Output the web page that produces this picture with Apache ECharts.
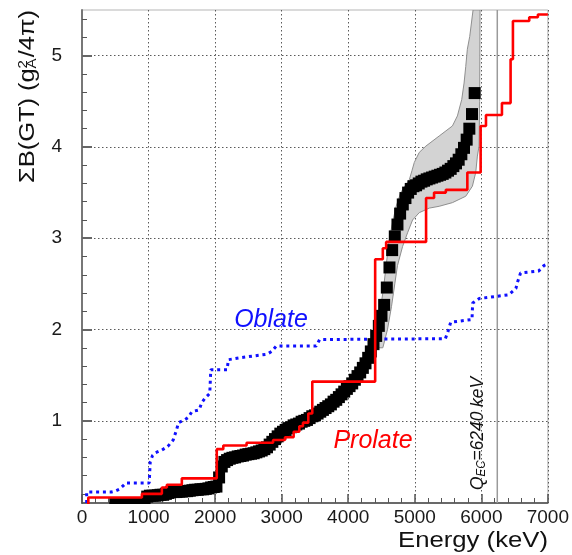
<!DOCTYPE html>
<html>
<head>
<meta charset="utf-8">
<script src="https://cdn.jsdelivr.net/npm/echarts@6/dist/echarts.min.js"></script>
<style>
  html, body { margin: 0; padding: 0; background: #ffffff; }
  #chart { width: 572px; height: 555px; }
</style>
</head>
<body>
<div id="chart"></div>
<script>
// ---- axis ticks ----
const xTickValues = [0, 1000, 2000, 3000, 4000, 5000, 6000, 7000];
const yTickValues = [1, 2, 3, 4, 5];
const yMinorTickValues = [0.2, 0.4, 0.6, 0.8, 1.2, 1.4, 1.6, 1.8, 2.2, 2.4, 2.6, 2.8,
  3.2, 3.4, 3.6, 3.8, 4.2, 4.4, 4.6, 4.8, 5.2, 5.4];

// ---- measured cumulative B(GT): bin energies (keV) and summed strength ----
const expEnergy = [
  500, 540, 580, 620, 660, 700, 740, 780, 820, 860, 900, 940, 980, 1020, 1060, 1100,
  1140, 1180, 1220, 1260, 1300, 1340, 1380, 1420, 1460, 1500, 1540, 1580, 1620, 1660,
  1700, 1740, 1780, 1820, 1860, 1900, 1940, 1980, 2020, 2060, 2100, 2140, 2180, 2220,
  2260, 2300, 2340, 2380, 2420, 2460, 2500, 2540, 2580, 2620, 2660, 2700, 2740, 2780,
  2820, 2860, 2900, 2940, 2980, 3020, 3060, 3100, 3140, 3180, 3220, 3260, 3300, 3340,
  3380, 3420, 3460, 3500, 3540, 3580, 3620, 3660, 3700, 3740, 3780, 3820, 3860, 3900,
  3940, 3980, 4020, 4060, 4100, 4140, 4180, 4220, 4260, 4300, 4340, 4380, 4420, 4460,
  4500, 4540, 4580, 4620, 4660, 4700, 4740, 4780, 4820, 4860, 4900, 4940, 4980, 5020,
  5060, 5100, 5140, 5180, 5220, 5260, 5300, 5340, 5380, 5420, 5460, 5500, 5540, 5580,
  5620, 5660, 5700, 5740, 5780, 5820, 5860, 5900
];
const expSum = [
  0.09, 0.09, 0.09, 0.09, 0.09, 0.095, 0.095, 0.095, 0.10, 0.10, 0.10, 0.10, 0.17, 0.18, 0.18, 0.18,
  0.185, 0.19, 0.19, 0.20, 0.21, 0.22, 0.22, 0.22, 0.225, 0.225, 0.23, 0.23, 0.235, 0.24,
  0.245, 0.245, 0.25, 0.25, 0.255, 0.26, 0.27, 0.275, 0.28, 0.38, 0.50, 0.55, 0.57, 0.585,
  0.595, 0.60, 0.61, 0.615, 0.62, 0.63, 0.635, 0.64, 0.645, 0.655, 0.665, 0.675, 0.69, 0.71,
  0.74, 0.77, 0.80, 0.83, 0.86, 0.88, 0.90, 0.92, 0.93, 0.95, 0.96, 0.97, 0.99, 1.00,
  1.01, 1.03, 1.05, 1.06, 1.08, 1.10, 1.12, 1.14, 1.16, 1.18, 1.21, 1.23, 1.26, 1.29,
  1.32, 1.35, 1.38, 1.41, 1.45, 1.49, 1.53, 1.58, 1.63, 1.69, 1.76, 1.84, 1.93, 2.04,
  2.15, 2.27, 2.46, 2.68, 2.87, 3.02, 3.15, 3.27, 3.37, 3.44, 3.50, 3.54, 3.57, 3.58,
  3.60, 3.62, 3.63, 3.645, 3.655, 3.665, 3.675, 3.685, 3.695, 3.705, 3.72, 3.74, 3.76, 3.79,
  3.82, 3.86, 3.92, 3.99, 4.08, 4.20, 4.36, 4.59
];

// ---- uncertainty band outline: upper/left edge going up, lower/right edge coming down ----
const bandUpper = [
  [4400, 1.80], [4430, 1.90], [4480, 2.20], [4530, 2.45], [4570, 2.70], [4610, 2.95],
  [4660, 3.15], [4720, 3.35], [4790, 3.50], [4860, 3.58], [4918, 3.64], [4958, 3.74],
  [4993, 3.83], [5067, 3.94], [5168, 4.01], [5367, 4.12], [5566, 4.23], [5641, 4.34],
  [5706, 4.52], [5741, 4.70], [5766, 4.88], [5790, 5.07], [5826, 5.21], [5876, 5.50]
];
const bandLower = [
  [5981, 5.50], [5975, 4.50], [5966, 4.01], [5941, 3.90], [5916, 3.72], [5866, 3.57],
  [5766, 3.46], [5566, 3.39], [5367, 3.35], [5217, 3.33], [5067, 3.28], [4967, 3.20],
  [4892, 3.06], [4817, 2.91], [4740, 2.70], [4700, 2.50], [4650, 2.25], [4590, 2.00],
  [4520, 1.80]
];

// ---- shell-model calculations (cumulative, step functions) ----
const prolate = [
  [95, 0.0], [95, 0.16], [900, 0.20], [1200, 0.27], [1275, 0.30], [1500, 0.37],
  [2025, 0.69], [2123, 0.73], [2473, 0.76], [2871, 0.79], [3050, 0.82], [3180, 0.88],
  [3265, 0.94], [3320, 0.98], [3400, 1.08], [3460, 1.43], [4405, 2.77], [4520, 2.89],
  [4570, 2.96], [5170, 3.44], [5290, 3.50], [5467, 3.53], [5790, 3.72], [5990, 4.23],
  [6070, 4.35], [6310, 4.48], [6440, 4.96], [6475, 5.38], [6720, 5.42], [6850, 5.45],
  [7000, 5.45]
];
const oblate = [
  [70, 0.10], [70, 0.22], [440, 0.22], [500, 0.23], [560, 0.25], [620, 0.29], [660, 0.32],
  [1010, 0.32], [1025, 0.55], [1060, 0.62], [1100, 0.65], [1200, 0.68], [1290, 0.72],
  [1370, 0.79], [1420, 0.90], [1450, 0.98], [1540, 1.01], [1600, 1.04], [1650, 1.10],
  [1760, 1.12], [1800, 1.20], [1850, 1.25], [1920, 1.30], [1935, 1.56], [2180, 1.56],
  [2200, 1.67], [2370, 1.69], [2780, 1.73], [2850, 1.76], [2920, 1.82], [3520, 1.82],
  [3570, 1.89], [5460, 1.90], [5500, 1.98], [5540, 2.08], [5860, 2.11], [5870, 2.29],
  [5970, 2.34], [6410, 2.38], [6520, 2.45], [6540, 2.51], [6590, 2.62], [6860, 2.64],
  [6940, 2.70], [7000, 2.72]
];

const QEC = 6240;           // keV
const yMin = 0.1, yMax = 5.5;

// ---- text helpers ----
const FAMILY = '"Liberation Sans", Arial, Helvetica, sans-serif';
const measureCtx = document.createElement('canvas').getContext('2d');
function textWidth(str, font) { measureCtx.font = font; return measureCtx.measureText(str).width; }

function textEl(str, x, y, font, fill) {
  return {
    type: 'text', x: x, y: y, silent: true,
    style: { text: str, font: font, fill: fill, textAlign: 'left', textVerticalAlign: 'middle',
             align: 'left', verticalAlign: 'middle' }
  };
}

// vertical axis title: ΣB(GT) (g_A^2/4π), reading bottom to top
const tBig = '22px ' + FAMILY, tSmall = '13px ' + FAMILY;
const yt1 = 'ΣB(GT) (g', yt3 = '/4π)';
const w1 = textWidth(yt1, tBig);
const wS = Math.max(textWidth('2', tSmall), textWidth('A', tSmall)) + 1;
const w3 = textWidth(yt3, tBig);
const yTitleLen = 173;
const yTitle = {
  type: 'group', x: 28, y: 183, rotation: Math.PI / 2,
  scaleX: yTitleLen / (w1 + wS + w3),
  children: [
    textEl(yt1, 0, 0, tBig, '#111'),
    textEl('2', w1, -5, tSmall, '#111'),
    textEl('A', w1, 4, tSmall, '#111'),
    textEl(yt3, w1 + wS, 0, tBig, '#111')
  ]
};

// horizontal axis title
const xtFont = '22px ' + FAMILY;
const xtStr = 'Energy (keV)';
const xTitle = {
  type: 'text', x: 548, y: 541, silent: true,
  scaleX: 150 / textWidth(xtStr, xtFont),
  style: { text: xtStr, font: xtFont, fill: '#111', textAlign: 'right', textVerticalAlign: 'middle',
           align: 'right', verticalAlign: 'middle' }
};

// Q-value annotation next to the vertical marker
const qBig = 'italic 18px ' + FAMILY, qSmall = 'italic 12px ' + FAMILY;
const wQ = textWidth('Q', qBig), wEC = textWidth('EC', qSmall), wRest = textWidth('=6240 keV', qBig);
const qLabel = {
  type: 'group', x: 478, y: 490, rotation: Math.PI / 2,
  scaleX: 113 / (wQ + wEC + wRest),
  children: [
    textEl('Q', 0, 0, qBig, '#111'),
    textEl('EC', wQ, 4, qSmall, '#111'),
    textEl('=6240 keV', wQ + wEC, 0, qBig, '#111')
  ]
};

const curveLabelFont = 'italic 25px ' + FAMILY;
function curveLabel(str, cx, cy, color) {
  return {
    type: 'text', x: cx, y: cy, silent: true,
    style: { text: str, font: curveLabelFont, fill: color, textAlign: 'center', textVerticalAlign: 'middle',
             align: 'center', verticalAlign: 'middle' }
  };
}

const gridLine = { color: '#5a5a5a', width: 1, type: [1.5, 2.5] };
const plainNumber = function (v) { return String(v); };

const chart = echarts.init(document.getElementById('chart'), null, { renderer: 'canvas' });
chart.setOption({
  animation: false,
  backgroundColor: '#ffffff',
  grid: { left: 82, right: 23, top: 10, bottom: 52, show: true, borderColor: '#b5b5b5', borderWidth: 1 },
  xAxis: {
    type: 'value', min: 0, max: 7000, interval: 1000,
    axisLine: { show: true, onZero: false, lineStyle: { color: '#444', width: 1.5 } },
    axisTick: { show: true, inside: true, length: 9, lineStyle: { color: '#555', width: 1.5 } },
    minorTick: { show: true, splitNumber: 5, length: 5, lineStyle: { color: '#555', width: 1 } },
    axisLabel: {
      margin: 5, fontSize: 19, fontFamily: FAMILY, color: '#1a1a1a',
      customValues: xTickValues, showMinLabel: true, showMaxLabel: true, formatter: plainNumber
    },
    splitLine: { show: true, lineStyle: gridLine }
  },
  yAxis: [
    {
      type: 'value', min: yMin, max: yMax,
      axisLine: { show: true, onZero: false, lineStyle: { color: '#777', width: 2 } },
      axisTick: { show: true, inside: true, length: 10, customValues: yTickValues,
                  lineStyle: { color: '#666', width: 2 } },
      axisLabel: { margin: 20, fontSize: 19, fontFamily: FAMILY, color: '#1a1a1a',
                   customValues: yTickValues, formatter: plainNumber },
      splitLine: { show: true, lineStyle: gridLine }
    },
    {
      type: 'value', min: yMin, max: yMax, position: 'left',
      axisLine: { show: false },
      axisTick: { show: true, inside: true, length: 5, customValues: yMinorTickValues,
                  lineStyle: { color: '#555', width: 1 } },
      axisLabel: { show: false },
      splitLine: { show: false }
    }
  ],
  series: [
    {
      // uncertainty band of the measured distribution
      type: 'custom', z: 1, clip: true,
      data: [[bandUpper[0][0], bandUpper[0][1]]],
      renderItem: function (params, api) {
        const pts = bandUpper.concat(bandLower).map(function (p) { return api.coord(p); });
        return {
          type: 'polygon', shape: { points: pts },
          style: { fill: '#d3d3d3', stroke: '#8f8f8f', lineWidth: 1 }
        };
      }
    },
    {
      // Q_EC marker
      type: 'line', z: 2, symbol: 'none', silent: true,
      data: [[QEC, yMin], [QEC, yMax]],
      lineStyle: { color: '#9a9a9a', width: 1.5 }
    },
    {
      name: 'Oblate', type: 'line', z: 3, symbol: 'none', silent: true,
      data: oblate,
      lineStyle: { color: '#1010ff', width: 3, type: [3, 3.8] }
    },
    {
      name: 'Experiment', type: 'scatter', z: 4, clip: false, silent: true,
      symbol: 'rect', symbolSize: 12,
      itemStyle: { color: '#000000', opacity: 1 },
      data: expEnergy.map(function (e, i) { return [e, expSum[i]]; })
    },
    {
      name: 'Prolate', type: 'line', z: 5, symbol: 'none', silent: true, step: 'end',
      data: prolate,
      lineStyle: { color: '#ff0000', width: 2.6 }
    }
  ],
  graphic: [
    // hides marker parts that fall below the energy axis
    { type: 'rect', z: 100, silent: true, shape: { x: 82, y: 504, width: 470, height: 6 }, style: { fill: '#ffffff' } },
    yTitle,
    xTitle,
    qLabel,
    curveLabel('Oblate', 271, 320, '#1010ff'),
    curveLabel('Prolate', 373, 441, '#ff0000')
  ]
});
</script>
</body>
</html>
